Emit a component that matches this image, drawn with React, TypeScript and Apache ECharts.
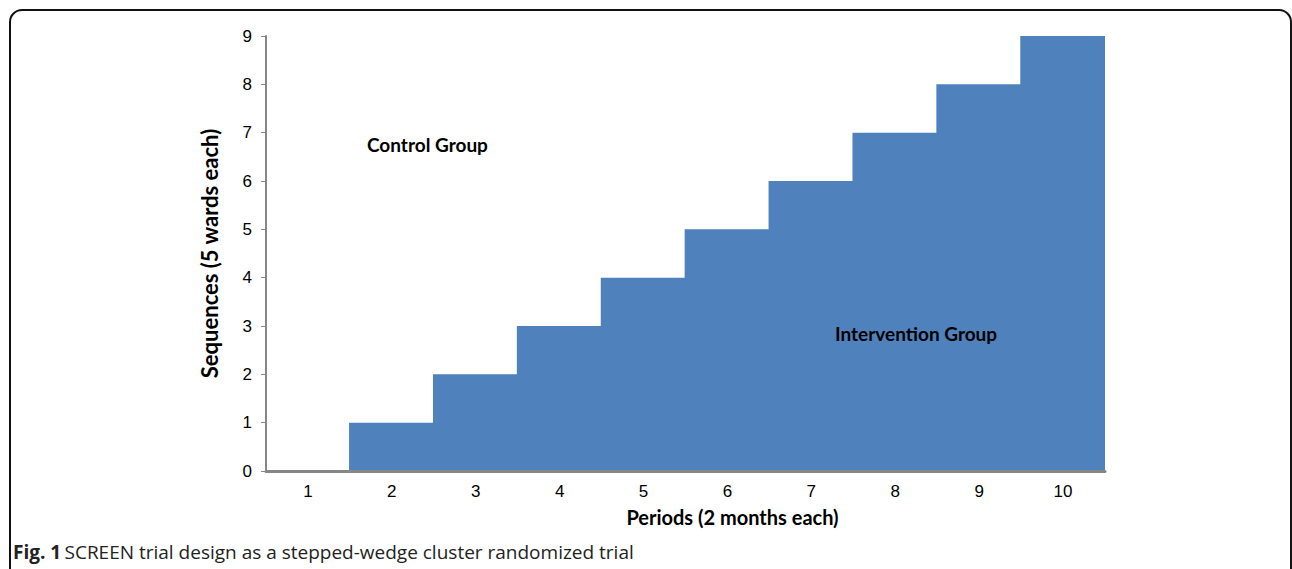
import React, { useEffect, useRef } from "react";
import * as echarts from "echarts";

const periods = ["1", "2", "3", "4", "5", "6", "7", "8", "9", "10"];
const sequencesSwitched = [0, 1, 2, 3, 4, 5, 6, 7, 8, 9];
const yTicks = { min: 0, max: 9, interval: 1 };

export default function App() {
  const ref = useRef<HTMLDivElement>(null);
  useEffect(() => {
    document.body.style.margin = "0";
    const chart = echarts.init(ref.current!, null, { renderer: "svg" });
    chart.setOption({
      animation: false,
      grid: { left: 266, right: 187, top: 36, bottom: 98 },
      xAxis: {
        type: "category",
        data: periods,
        z: 5,
        axisLine: { lineStyle: { color: "#868686", width: 3 } },
        axisTick: { show: false },
        axisLabel: { color: "#000", fontSize: 17, fontFamily: "Liberation Sans", margin: 12 },
        name: "Periods (2 months each)",
        nameLocation: "middle",
        nameGap: 36,
        nameTextStyle: {
          color: "#000",
          fontSize: 20,
          fontWeight: "bold",
          fontFamily: "Lato",
          padding: [0, 0, 0, 94],
        },
      },
      yAxis: {
        type: "value",
        min: yTicks.min,
        max: yTicks.max,
        interval: yTicks.interval,
        splitLine: { show: false },
        axisLine: { show: true, lineStyle: { color: "#868686", width: 2 } },
        axisTick: { show: true, length: 5, lineStyle: { color: "#868686", width: 1 } },
        axisLabel: { color: "#000", fontSize: 17, fontFamily: "Liberation Sans", margin: 14 },
        name: "Sequences (5 wards each)",
        nameLocation: "middle",
        nameGap: 46,
        nameTextStyle: { color: "#000", fontSize: 22, fontWeight: "bold", fontFamily: "Lato" },
      },
      series: [
        {
          type: "bar",
          data: sequencesSwitched,
          barCategoryGap: "-2%",
          itemStyle: { color: "#4F81BD" },
        },
      ],
      graphic: [
        {
          type: "rect",
          z: 100,
          shape: { x: 10, y: 10, width: 1281, height: 620, r: 12 },
          style: { fill: "none", stroke: "#111", lineWidth: 2 },
          silent: true,
        },
        {
          type: "text",
          z: 100,
          x: 367,
          y: 144,
          style: { text: "Control Group", fill: "#000", font: "bold 19px Lato", verticalAlign: "middle" },
        },
        {
          type: "text",
          z: 100,
          x: 835,
          y: 333,
          style: { text: "Intervention Group", fill: "#000", font: "bold 19px Lato", verticalAlign: "middle" },
        },
        {
          type: "text",
          z: 100,
          x: 13,
          y: 552,
          style: {
            text: "{b|Fig. 1} {r|SCREEN trial design as a stepped-wedge cluster randomized trial}",
            verticalAlign: "middle",
            rich: {
              b: { fontWeight: "bold", fontSize: 19, fontFamily: "Open Sans", fill: "#222" },
              r: { fontSize: 19, fontFamily: "Open Sans", fill: "#222" },
            },
          },
        },
      ],
    });
    return () => chart.dispose();
  }, []);
  return <div ref={ref} style={{ width: 1292, height: 569 }} />;
}
